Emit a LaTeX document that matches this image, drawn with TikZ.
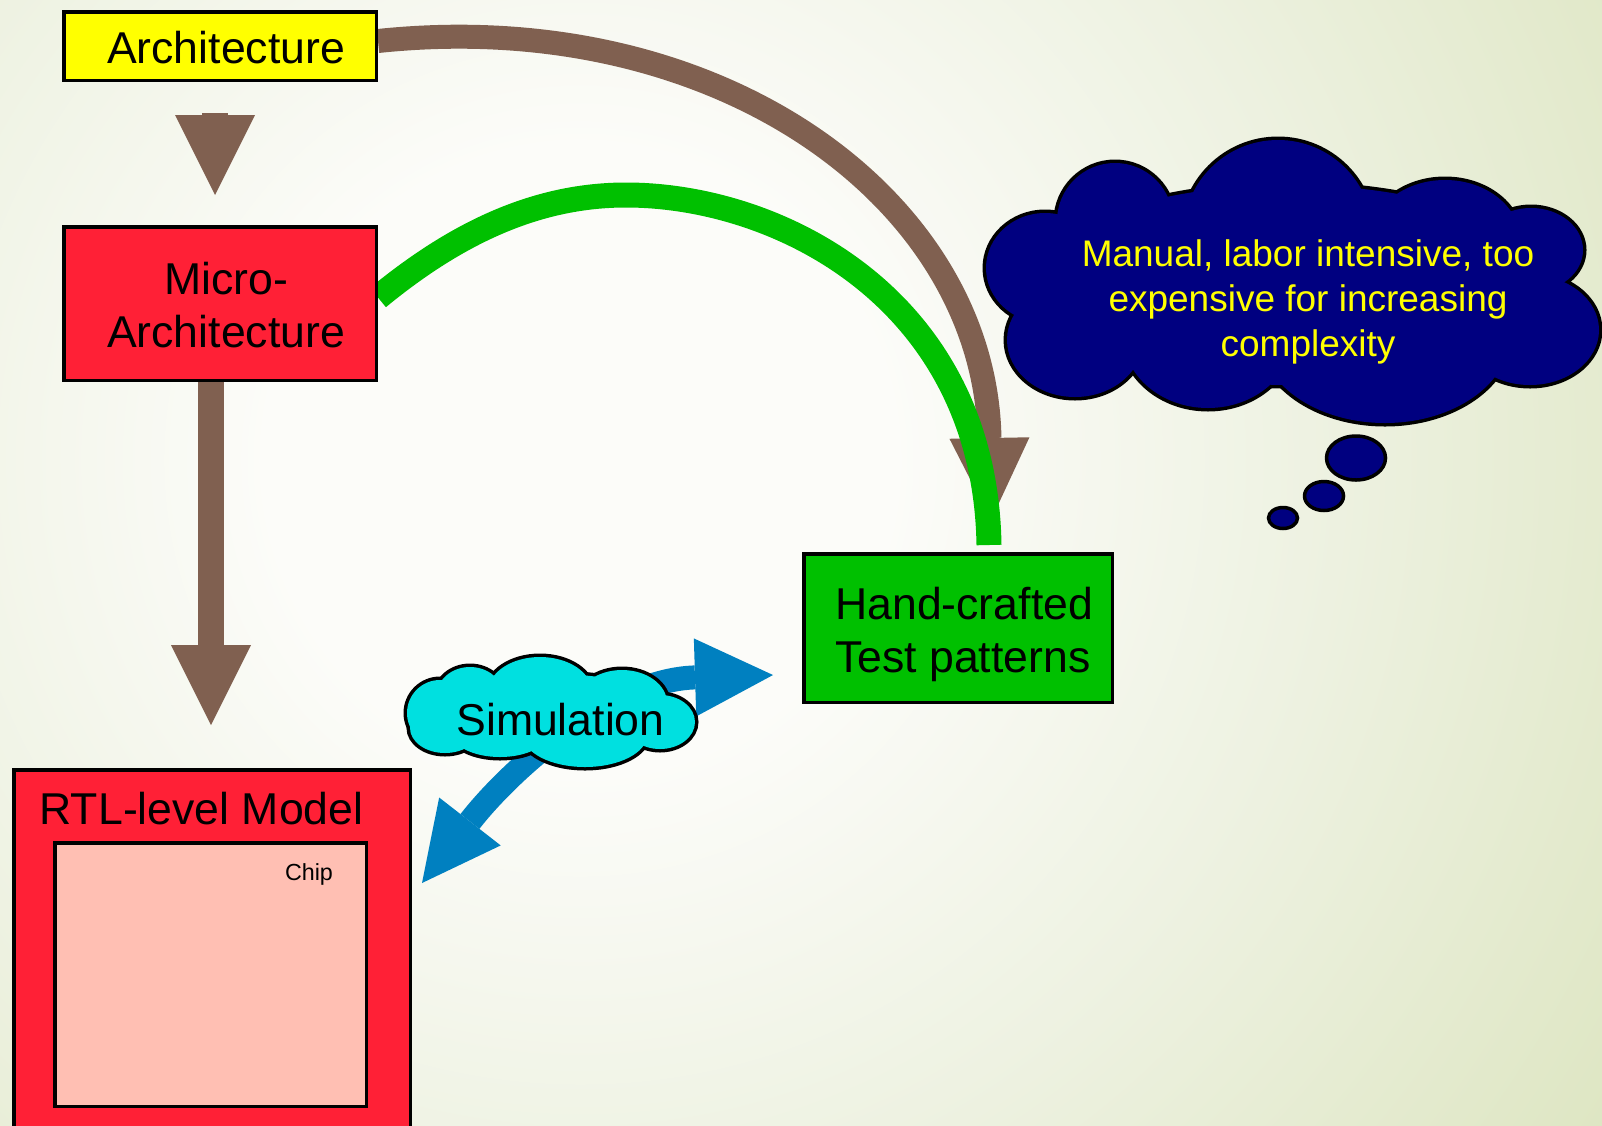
\documentclass[tikz,border=0pt]{standalone}
\usepackage{fontspec}
\setmainfont{Liberation Sans}
\usetikzlibrary{arrows.meta}

% palette
\definecolor{bgCentre}{HTML}{FCFCF9}
\definecolor{bgMid}{HTML}{EEF2E2}
\definecolor{bgEdge}{HTML}{DEE6C3}
\definecolor{archYellow}{HTML}{FFFF00}
\definecolor{designRed}{HTML}{FF2036}
\definecolor{chipPink}{HTML}{FFBFB3}
\definecolor{testGreen}{HTML}{00C000}
\definecolor{flowBrown}{HTML}{806050}
\definecolor{simBlue}{HTML}{0080C0}
\definecolor{simCyan}{HTML}{00E0E0}
\definecolor{noteNavy}{HTML}{000080}
\definecolor{noteYellow}{HTML}{FFFF00}

% the circle's rim sits at 25bp of the shading
\pgfdeclareradialshading{backdropshade}{\pgfpointorigin}{%
  color(0bp)=(bgCentre); color(6bp)=(bgCentre); color(14bp)=(bgMid);
  color(23.5bp)=(bgEdge); color(25bp)=(bgEdge); color(50bp)=(bgEdge)}

\pgfdeclarelayer{backdrop}
\pgfdeclarelayer{flows}
\pgfsetlayers{backdrop,flows,main}

\tikzset{
  box/.style={draw=black, line width=3.5pt, inner sep=0pt},
  lbl/.style={inner sep=0pt, text=black, font=\fontsize{44.6}{53}\selectfont},
  chiplbl/.style={inner sep=0pt, text=black, font=\fontsize{23.3}{28}\selectfont},
  notelbl/.style={inner sep=0pt, text=noteYellow, font=\fontsize{37}{45}\selectfont},
  brownflow/.style={draw=flowBrown, line width=26pt,
    -{Triangle[width=80pt 0,length=80pt 0,line width=0pt]}},
  brownarc/.style={draw=flowBrown, line width=24pt,
    -{Triangle[width=80pt 0,length=82pt 0,line width=0pt]}},
  greenflow/.style={draw=testGreen, line width=25pt},
  blueflow/.style={draw=simBlue, line width=24pt,
    {Triangle[width=78pt 0,length=78pt 0,line width=0pt]}-{Triangle[width=78pt 0,length=78pt 0,line width=0pt]}},
  puffline/.style={draw=black, line width=7pt},
  bubble/.style={draw=black, fill=noteNavy, line width=3.5pt}
}

% puffs making up the two clouds: centre x / centre y / x radius / y radius
\def\simpuffs{552/712/120/38, 440/713/33/33, 470/695/33/28, 540/692/52/35,
  622/703/45/33, 660/722/35/27, 585/735/62/32, 500/733/48/24, 445/728/35/25}
\def\notepuffs{1290/285/260/100, 1115/221/58/58, 1278/235/95/95, 1445/240/75/60,
  1531/250/52/42, 1530/330/69/55, 1385/335/125/88, 1208/335/85/73,
  1075/340/68/57, 1045/268/59/55}

\begin{document}
\begin{tikzpicture}[x=1pt,y=-1pt]
\useasboundingbox (0,0) rectangle (1602,1125);

\begin{pgfonlayer}{backdrop}
  \clip (0,0) rectangle (1602,1125);
  \shade[shading=backdropshade] (580,460) circle[radius=1300pt];
\end{pgfonlayer}

% boxes
\node[box, fill=archYellow, minimum width=312.5pt, minimum height=68.5pt] (arch) at (220,46) {};
\node[box, fill=designRed, minimum width=312.5pt, minimum height=153.5pt] (micro) at (220,303.5) {};
\node[box, fill=designRed, minimum width=396.5pt, minimum height=368.5pt] (rtl) at (212,954) {};
\node[box, fill=chipPink, minimum width=311.5pt, minimum height=263.5pt] (chip) at (210.5,974.5) {};
\node[box, fill=testGreen, minimum width=308.5pt, minimum height=148.5pt] (hand) at (958,628) {};

% box captions
\node[lbl, anchor=base] (archtxt) at (226,63) {Architecture};
\node[lbl, align=center] (microtxt) at (226,305.5) {Micro-\\Architecture};
\node[lbl, anchor=base] (rtltxt) at (201.5,824) {RTL-level Model};
\node[chiplbl, anchor=base] (chiptxt) at (309,880) {Chip};
\node[lbl, align=left, anchor=west] (handtxt) at (835,634.4) {Hand-crafted\\Test patterns};

% free ends of the straight refinement arrows and of the simulation arrow
\coordinate (archdown) at (215,113);
\coordinate (archtip) at (215,195);
\coordinate (microtip) at (211,725);
\coordinate (simL) at (422,883);
\coordinate (simR) at (773,675);

\begin{pgfonlayer}{flows}
  % architecture straight to test patterns
  \draw[brownarc] ([yshift=5pt]arch.east) .. controls (720,5) and (985,200) ..
    ([xshift=33pt,yshift=32pt]hand.north);
  % micro-architecture to test patterns
  \draw[greenflow] ([yshift=6pt]micro.east) .. controls (460,230) and (540,195) .. (626,195)
    .. controls (780,195) and (985,300) .. ([xshift=31pt,yshift=7pt]hand.north);
  % refinement steps
  \draw[brownflow] (archdown) -- (archtip);
  \draw[brownflow] ([xshift=-9pt]micro.south) -- (microtip);
\end{pgfonlayer}

% simulation between model and test patterns
\draw[blueflow] (simL) .. controls (510,770) and (610,680) .. (simR);

% simulation cloud
\foreach \cx/\cy/\rx/\ry in \simpuffs
  \draw[puffline] (\cx,\cy) ellipse[x radius=\rx pt, y radius=\ry pt];
\foreach \cx/\cy/\rx/\ry in \simpuffs
  \fill[simCyan] (\cx,\cy) ellipse[x radius=\rx pt, y radius=\ry pt];
\node[lbl, anchor=base] (simtxt) at (560.5,735) {Simulation};

% thought cloud
\foreach \cx/\cy/\rx/\ry in \notepuffs
  \draw[puffline] (\cx,\cy) ellipse[x radius=\rx pt, y radius=\ry pt];
\foreach \cx/\cy/\rx/\ry in \notepuffs
  \fill[noteNavy] (\cx,\cy) ellipse[x radius=\rx pt, y radius=\ry pt];
\draw[bubble] (1356,458) ellipse[x radius=29.5pt, y radius=22pt];
\draw[bubble] (1324,496) ellipse[x radius=19.5pt, y radius=14.5pt];
\draw[bubble] (1283,518) ellipse[x radius=14.5pt, y radius=10.5pt];
\node[notelbl, align=center] (notetxt) at (1308,302.4)
  {Manual, labor intensive, too\\expensive for increasing\\complexity};
\end{tikzpicture}
\end{document}
